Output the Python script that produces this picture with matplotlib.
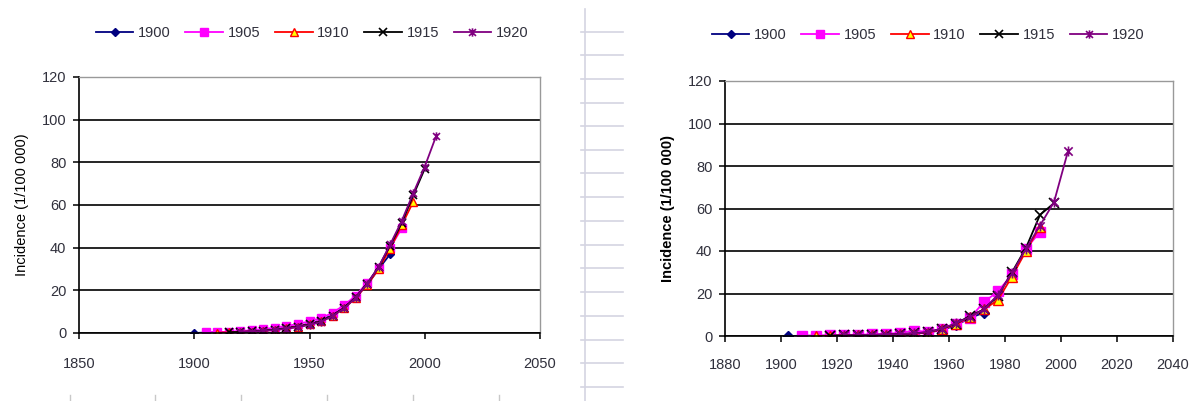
import numpy as np
import matplotlib
matplotlib.use("Agg")
import matplotlib.pyplot as plt
from matplotlib.path import Path
from matplotlib.lines import Line2D

plt.rcParams["font.family"] = ["Liberation Sans", "DejaVu Sans"]

COHORTS = ["1900", "1905", "1910", "1915", "1920"]

# left chart: first calendar year of each cohort and incidence every 5 years
LEFT_START = [1900, 1905, 1910, 1915, 1920]
LEFT_1900 = [0.0, 0.2, 0.3, 0.4, 0.6, 0.9, 1.3, 1.8, 2.5, 3.3, 4.4, 6.0, 8.5, 12.0, 17.0, 22.5, 30.0, 37.0]
LEFT_1905 = [0.4, 0.4, 0.6, 0.9, 1.3, 1.8, 2.5, 3.3, 4.2, 5.5, 7.0, 9.5, 13.0, 17.5, 23.5, 30.5, 40.0, 49.0]
LEFT_1910 = [0.2, 0.3, 0.5, 0.7, 1.0, 1.5, 2.2, 3.0, 4.0, 5.5, 8.0, 11.5, 16.5, 22.5, 30.0, 39.5, 50.5, 61.5]
LEFT_1915 = [0.4, 0.5, 0.8, 1.1, 1.6, 2.2, 3.0, 4.0, 5.5, 8.2, 11.8, 16.8, 23.0, 31.0, 41.0, 51.5, 64.5, 77.0]
LEFT_1920 = [0.5, 0.7, 1.0, 1.4, 2.0, 2.8, 3.8, 5.2, 8.0, 11.5, 16.5, 23.0, 31.0, 41.5, 52.5, 65.5, 78.0, 92.5]

# right chart: mid-points of 5-year periods
RIGHT_START = [1902.5, 1907.5, 1912.5, 1917.5, 1922.5]
RIGHT_1900 = [0.0, 0.1, 0.1, 0.2, 0.3, 0.3, 0.5, 0.6, 0.9, 1.2, 1.6, 2.8, 5.0, 8.5, 11.0]
RIGHT_1905 = [0.2, 0.2, 0.3, 0.5, 0.6, 0.8, 1.0, 1.5, 2.5, 2.0, 3.2, 5.5, 8.5, 16.0, 21.0, 29.0, 41.0, 49.0]
RIGHT_1910 = [0.0, 0.1, 0.2, 0.3, 0.4, 0.6, 0.8, 1.1, 1.5, 3.3, 5.5, 9.0, 12.5, 17.0, 28.0, 40.0, 51.5]
RIGHT_1915 = [0.2, 0.3, 0.4, 0.5, 0.7, 0.9, 1.2, 1.8, 3.5, 5.8, 9.5, 12.5, 19.0, 30.0, 41.5, 57.0, 62.5]
RIGHT_1920 = [0.3, 0.4, 0.5, 0.7, 0.9, 1.2, 1.7, 3.5, 6.0, 9.0, 12.5, 19.5, 29.5, 41.0, 52.0, 63.0, 87.0]

LEFT_XTICKS = [1850, 1900, 1950, 2000, 2050]
RIGHT_XTICKS = [1880, 1900, 1920, 1940, 1960, 1980, 2000, 2020, 2040]
YTICKS = [0, 20, 40, 60, 80, 100, 120]

# excel-like asterisk marker
STAR = Path([(-1, -1), (1, 1), (-1, 1), (1, -1), (0, -1.2), (0, 1.2)],
            [Path.MOVETO, Path.LINETO, Path.MOVETO, Path.LINETO, Path.MOVETO, Path.LINETO])

STYLES = [
    dict(color="#000080", marker="D", mfc="#000080", mec="#000080", ms=4.5),
    dict(color="#FF00FF", marker="s", mfc="#FF00FF", mec="#FF00FF", ms=6),
    dict(color="#FF0000", marker="^", mfc="#FFFF00", mec="#FF0000", ms=6),
    dict(color="#000000", marker="x", mfc="none", mec="#000000", ms=5.5, mew=1.2),
    dict(color="#800080", marker=STAR, mfc="none", mec="#800080", ms=6, mew=1.2),
]

TXT = "#30303c"


def draw_panel(ax, starts, series, xlim, xticks, bold_label, mscale, xpad):
    for start, vals, st in zip(starts, series, STYLES):
        x = start + 5 * np.arange(len(vals))
        kw = dict(st)
        kw["ms"] = st["ms"] * mscale
        ax.plot(x, vals, lw=1.3, **kw)
    ax.set_xlim(*xlim)
    ax.set_ylim(0, 120)
    ax.set_xticks(xticks)
    ax.set_yticks(YTICKS)
    ax.yaxis.grid(True, color="black", lw=1.2)
    ax.set_axisbelow(True)
    for s in ["left", "bottom"]:
        ax.spines[s].set_color("black")
        ax.spines[s].set_linewidth(1.2)
    for s in ["top", "right"]:
        ax.spines[s].set_color("#999999")
        ax.spines[s].set_linewidth(1.0)
    ax.tick_params(direction="out", length=4, width=1.1, labelsize=10.5,
                   labelcolor=TXT, pad=5)
    ax.tick_params(axis="x", pad=xpad)
    ax.set_ylabel("Incidence (1/100 000)", fontsize=10.5, color="black",
                  fontweight="bold" if bold_label else "normal", labelpad=9)


fig = plt.figure(figsize=(11.95, 4.01), dpi=100)
ax1 = fig.add_axes([79 / 1195, 1 - 333 / 401, 461 / 1195, 256 / 401])
ax2 = fig.add_axes([725 / 1195, 1 - 336 / 401, 448 / 1195, 255 / 401])

draw_panel(ax1, LEFT_START, [LEFT_1900, LEFT_1905, LEFT_1910, LEFT_1915, LEFT_1920],
           (1850, 2050), LEFT_XTICKS, False, 1.0, 13)
draw_panel(ax2, RIGHT_START, [RIGHT_1900, RIGHT_1905, RIGHT_1910, RIGHT_1915, RIGHT_1920],
           (1880, 2040), RIGHT_XTICKS, True, 1.2, 12)

handles = [Line2D([], [], lw=1.3, **st) for st in STYLES]
for cx, cy in [(312 / 1195, 1 - 33 / 401), (928 / 1195, 1 - 35 / 401)]:
    fig.legend(handles, COHORTS, loc="center", bbox_to_anchor=(cx, cy), ncol=5,
               frameon=False, fontsize=10.5, handlelength=2.6, handletextpad=0.3,
               columnspacing=1.0, labelcolor=TXT)

# spreadsheet remnants between and below the charts
grey = "#d4d4e2"
fig.add_artist(Line2D([585 / 1195] * 2, [0, 1 - 9 / 401], color=grey, lw=1.2))
for y in [32, 55, 79, 103, 126, 150, 173, 197, 221, 245, 268, 292, 316, 340, 363, 387]:
    fig.add_artist(Line2D([581 / 1195, 623 / 1195], [1 - y / 401] * 2, color=grey, lw=1.2))
for x in [70, 155, 241, 327, 413, 499]:
    fig.add_artist(Line2D([x / 1195] * 2, [0, 6 / 401], color="#c8c8c8", lw=1))

fig.savefig("out.png", dpi=100)
